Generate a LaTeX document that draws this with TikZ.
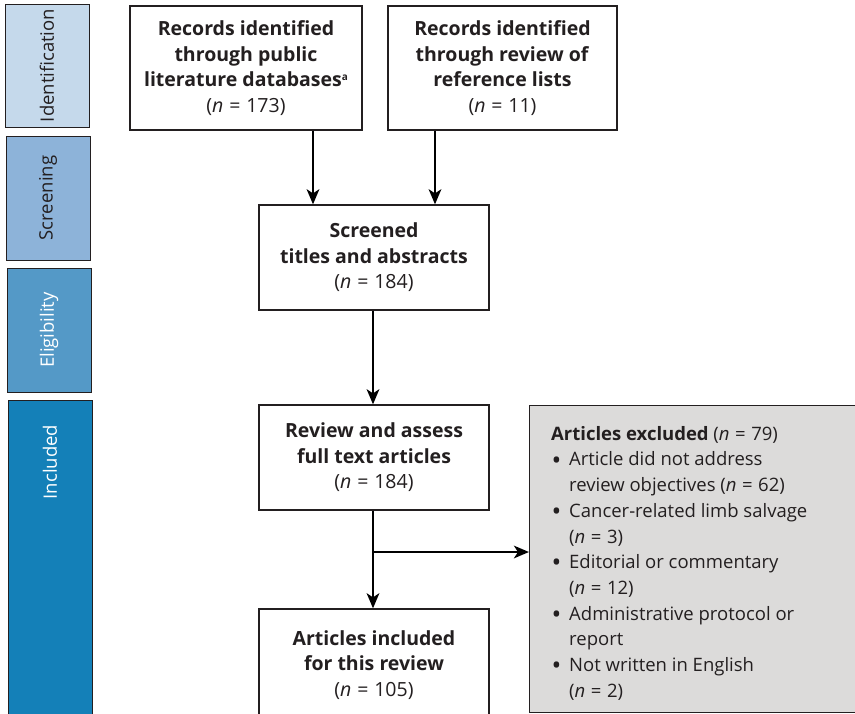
\documentclass[tikz,border=0pt]{standalone}
\usepackage{fontspec}
\setmainfont{Open Sans}
\usetikzlibrary{arrows.meta,positioning}
\definecolor{cIdent}{HTML}{C5D9EB}
\definecolor{cScreen}{HTML}{8DB3D9}
\definecolor{cElig}{HTML}{5499C7}
\definecolor{cIncl}{HTML}{1480B8}
\definecolor{cExcl}{HTML}{DCDBDA}
\definecolor{cTxt}{HTML}{231F20}
\newcommand{\nval}[1]{(\textit{n}\hspace{0.3em}=\hspace{0.3em}#1)}
\newcommand{\bul}{\makebox[18pt][l]{\hspace{0.5pt}\raisebox{-3.2pt}{\fontsize{26}{0}\selectfont•}}}
\tikzset{
  phase/.style={draw=cTxt, line width=1pt, minimum width=84pt, anchor=north west},
  phaselab/.style={rotate=90, font=\fontsize{18.5}{22}\selectfont},
  flowbox/.style={draw=cTxt, line width=1.3pt, fill=white, align=center, text=cTxt,
    font=\fontsize{19.5}{25.5}\selectfont, inner sep=0pt},
  arr/.style={line width=2.8pt, draw=black, -{Stealth[length=15pt,width=12.5pt,inset=4pt]}},
}
\begin{document}
\begin{tikzpicture}[x=1pt,y=-1pt]
\useasboundingbox (0,0) rectangle (855,713);
% phase bars
\node[phase, fill=cIdent, minimum height=123pt] (pI) at (5,4) {};
\node[phase, fill=cScreen, minimum height=124pt] (pS) at (6,136) {};
\node[phase, fill=cElig, minimum height=124pt] (pE) at (7,268) {};
\node[phase, fill=cIncl, minimum height=330pt] (pC) at (8,400) {};
\node[phaselab, text=cTxt] (lI) at (47,65.5) {Identification};
\node[phaselab, text=cTxt] (lS) at (48,198) {Screening};
\node[phaselab, text=white] (lE) at (49,330) {Eligibility};
\node[phaselab, text=white] (lC) at (50,462) {Included};
% flow boxes
\node[flowbox, minimum width=232pt, minimum height=124pt] (rec1) at (246,68)
  {\textbf{Records identified}\\\textbf{through public}\\\textbf{literature databases\raisebox{0.55ex}{\fontsize{10}{10}\selectfont a}}\\\nval{173}};
\node[flowbox, minimum width=229pt, minimum height=124pt] (rec2) at (502.5,68)
  {\textbf{Records identified}\\\textbf{through review of}\\\textbf{reference lists}\\\nval{11}};
\node[flowbox, minimum width=230pt, minimum height=105pt] (scr) at (374,257.5)
  {\textbf{Screened}\\\textbf{titles and abstracts}\\\nval{184}};
\node[flowbox, minimum width=230pt, minimum height=105pt] (rev) at (374,457.5)
  {\textbf{Review and assess}\\\textbf{full text articles}\\\nval{184}};
\node[flowbox, minimum width=230pt, minimum height=112pt] (inc) at (374,665)
  {\textbf{Articles included}\\\textbf{for this review}\\\nval{105}};
\node[draw=cTxt, line width=1.3pt, fill=cExcl, minimum width=330pt, minimum height=307pt, anchor=north west] (exc) at (529,405) {};
\node[anchor=north west, align=left, text=cTxt, font=\fontsize{18.5}{25.7}\selectfont, inner sep=0pt] (exct) at (551,426)
  {\textbf{Articles excluded} \nval{79}\\
   \bul Article did not address\\
   \hspace*{18pt}review objectives \nval{62}\\
   \bul Cancer-related limb salvage\\
   \hspace*{18pt}\nval{3}\\
   \bul Editorial or commentary\\
   \hspace*{18pt}\nval{12}\\
   \bul Administrative protocol or\\
   \hspace*{18pt}report\\
   \bul Not written in English\\
   \hspace*{18pt}\nval{2}};
% connectors
\coordinate (a1) at (313,0);
\coordinate (a2) at (435,0);
\coordinate (a3) at (373,0);
\coordinate (br) at (373,552);
\draw[arr] (rec1.south -| a1) -- (scr.north -| a1);
\draw[arr] (rec2.south -| a2) -- (scr.north -| a2);
\draw[arr] (scr.south -| a3) -- (rev.north -| a3);
\draw[arr] (rev.south -| a3) -- (inc.north -| a3);
\draw[arr] (br) -- (exc.west |- br);
\end{tikzpicture}
\end{document}
